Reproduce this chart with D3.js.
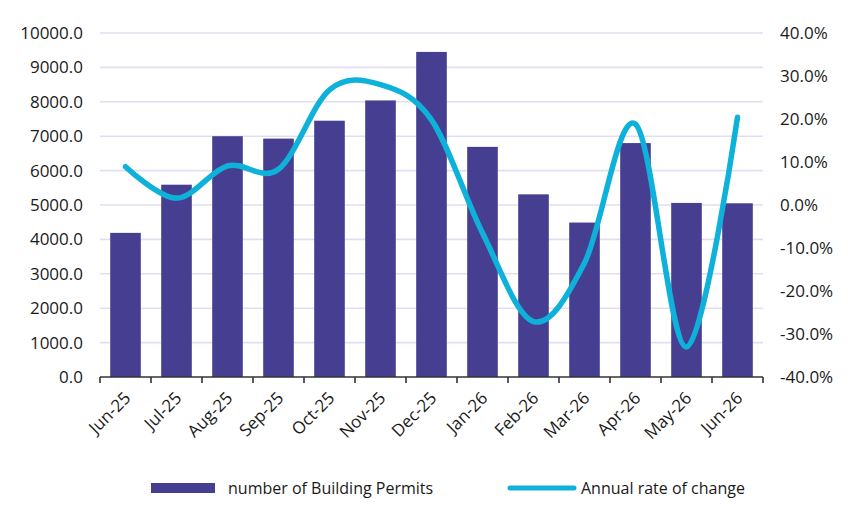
<!DOCTYPE html>
<html>
<head>
<meta charset="utf-8">
<script src="https://cdn.jsdelivr.net/npm/d3@7"></script>
<style>
    body {margin: 0; background: #fff}
</style>
</head>
<body>
<div id="chart"></div>
<script>

let months = ['Jun-25','Jul-25','Aug-25','Sep-25','Oct-25','Nov-25','Dec-25','Jan-26','Feb-26','Mar-26','Apr-26','May-26','Jun-26']
let permits = [4190, 5590, 7000, 6930, 7450, 8040, 9450, 6690, 5310, 4490, 6800, 5060, 5050]
let rate = [8.9, 1.6, 9.1, 8.3, 26.8, 28.0, 19.8, -6.5, -27.1, -13.5, 18.8, -33.0, 20.4]
let leftTicks = [0, 1000, 2000, 3000, 4000, 5000, 6000, 7000, 8000, 9000, 10000]
let rightTicks = [-40, -30, -20, -10, 0, 10, 20, 30, 40]

let width = 850
let height = 521
let margin = {top: 33, right: 87, bottom: 144, left: 100}
let font = '"Open Sans", "Noto Sans", sans-serif'
let barColor = '#463f91'
let lineColor = '#0eb1d9'
let textColor = '#1a1a1a'

let svg = d3.select('#chart').append('svg')
    .attr('width', width)
    .attr('height', height)
    .style('font-family', font)

// scales
let x = d3.scaleBand()
    .domain(months)
    .range([margin.left, width - margin.right])
    .paddingInner(0.4)
    .paddingOuter(0.2)
let yLeft = d3.scaleLinear()
    .domain([0, 10000])
    .range([height - margin.bottom, margin.top])
let yRight = d3.scaleLinear()
    .domain([-40, 40])
    .range([height - margin.bottom, margin.top])

// gridlines
svg.append('g')
    .selectAll('line')
    .data(leftTicks.slice(1))
    .enter()
    .append('line')
    .attr('x1', margin.left)
    .attr('x2', width - margin.right)
    .attr('y1', d => yLeft(d))
    .attr('y2', d => yLeft(d))
    .attr('stroke', '#e1def1')
    .attr('stroke-width', 1.6)

// bars
svg.append('g')
    .selectAll('rect')
    .data(permits)
    .enter()
    .append('rect')
    .attr('x', (d, i) => x(months[i]))
    .attr('y', d => yLeft(d))
    .attr('width', x.bandwidth())
    .attr('height', d => yLeft(0) - yLeft(d))
    .attr('fill', barColor)

// left axis
let leftAxis = svg.append('g')
    .attr('transform', 'translate(' + margin.left + ',0)')
    .call(d3.axisLeft(yLeft).tickValues(leftTicks).tickFormat(d3.format('.1f')).tickSize(0).tickPadding(17))
leftAxis.select('.domain').remove()

// right axis
let rightAxis = svg.append('g')
    .attr('transform', 'translate(' + (width - margin.right) + ',0)')
    .call(d3.axisRight(yRight).tickValues(rightTicks).tickFormat(d => d.toFixed(1) + '%').tickSize(0).tickPadding(17))
rightAxis.select('.domain').remove()

svg.selectAll('.tick text')
    .style('font-family', font)
    .style('font-size', '17px')
    .attr('fill', textColor)

// bottom axis with ticks on band edges
let bottom = svg.append('g')
bottom.append('line')
    .attr('x1', margin.left)
    .attr('x2', width - margin.right)
    .attr('y1', yLeft(0))
    .attr('y2', yLeft(0))
    .attr('stroke', '#333')
    .attr('stroke-width', 1.6)
let edges = months.map(m => x(m) - x.step() * x.paddingInner() / 2)
edges.push(width - margin.right)
bottom.selectAll('.edge')
    .data(edges)
    .enter()
    .append('line')
    .attr('class', 'edge')
    .attr('x1', d => d)
    .attr('x2', d => d)
    .attr('y1', yLeft(0))
    .attr('y2', yLeft(0) + 6)
    .attr('stroke', '#333')
    .attr('stroke-width', 1.6)
bottom.selectAll('text')
    .data(months)
    .enter()
    .append('text')
    .attr('transform', d => 'translate(' + (x(d) + x.bandwidth() / 2 + 2) + ',' + (yLeft(0) + 18) + ') rotate(-45)')
    .attr('text-anchor', 'end')
    .attr('dy', '0.35em')
    .style('font-size', '17px')
    .attr('fill', textColor)
    .text(d => d)

// smoothed rate line
let line = d3.line()
    .x((d, i) => x(months[i]) + x.bandwidth() / 2)
    .y(d => yRight(d))
    .curve(d3.curveCardinal.tension(0))
svg.append('path')
    .datum(rate)
    .attr('d', line)
    .attr('fill', 'none')
    .attr('stroke', lineColor)
    .attr('stroke-width', 5.5)
    .attr('stroke-linecap', 'round')
    .attr('stroke-linejoin', 'round')

// legend
let legend = svg.append('g')
legend.append('rect')
    .attr('x', 151)
    .attr('y', 483)
    .attr('width', 64)
    .attr('height', 10)
    .attr('fill', barColor)
legend.append('text')
    .attr('x', 228)
    .attr('y', 488)
    .attr('dy', '0.35em')
    .style('font-size', '16px')
    .attr('fill', textColor)
    .text('number of Building Permits')
legend.append('line')
    .attr('x1', 510)
    .attr('x2', 574)
    .attr('y1', 488)
    .attr('y2', 488)
    .attr('stroke', lineColor)
    .attr('stroke-width', 5)
    .attr('stroke-linecap', 'round')
legend.append('text')
    .attr('x', 581)
    .attr('y', 488)
    .attr('dy', '0.35em')
    .style('font-size', '16px')
    .attr('fill', textColor)
    .text('Annual rate of change')

</script>
</body>
</html>
